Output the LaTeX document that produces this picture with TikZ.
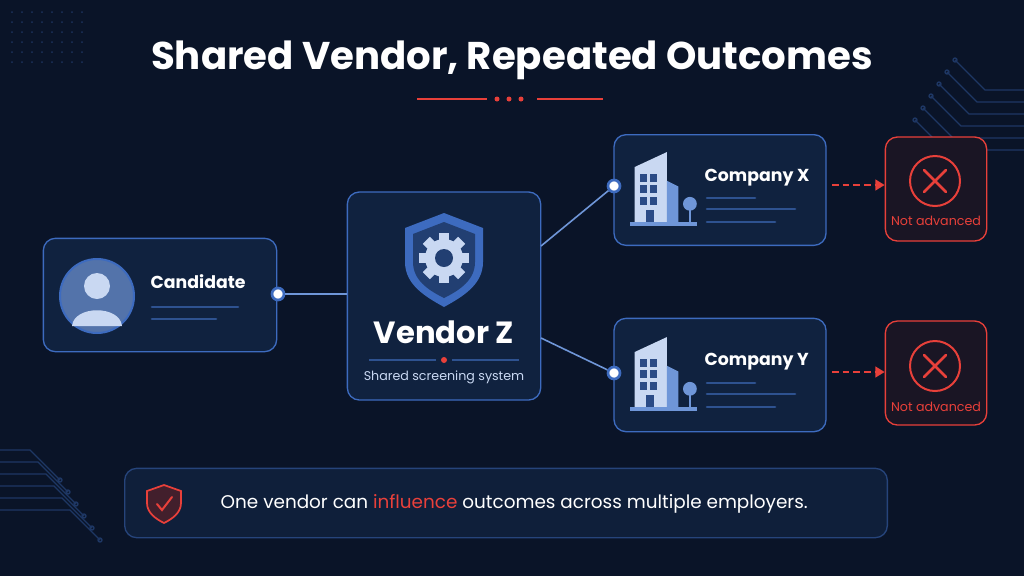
\documentclass[tikz,border=0pt]{standalone}
\usepackage{fontspec}
\setmainfont{Poppins}
\usetikzlibrary{arrows.meta,positioning}
\definecolor{bg}{HTML}{0A1428}
\definecolor{boxfill}{HTML}{10223F}
\definecolor{boxedge}{HTML}{3D6BBF}
\definecolor{iconblue}{HTML}{6F96D8}
\definecolor{iconlight}{HTML}{C9D8F2}
\definecolor{alertred}{HTML}{E8403A}
\definecolor{redfill}{HTML}{1A1524}
\definecolor{greyline}{HTML}{2E5290}
\tikzset{
  box/.style = {draw = boxedge, fill = boxfill, rounded corners = 9pt, line width = 1pt, inner sep = 0pt},
  redbox/.style = {draw = alertred, fill = redfill, rounded corners = 9pt, line width = 1pt, inner sep = 0pt},
  link/.style = {draw = iconblue, line width = 1.2pt},
  port/.style = {circle, draw = boxedge, fill = white, line width = 2pt, inner sep = 0pt, minimum size = 9pt},
  stub/.style = {draw = greyline, line width = 2pt, line cap = round},
  label/.style = {text = white, font = \bfseries\fontsize{13}{15}\selectfont, anchor = west},
}
\newcommand{\building}[1]{%
  \begin{scope}[shift = {#1}, scale = 1.15]
    \fill [iconlight] (-22, 28) -- (-22, -20) -- (6, -33) -- (6, 28) -- cycle;
    \fill [iconblue] (6, 28) -- (6, -8) -- (16, -3) -- (16, 28) -- cycle;
    \foreach \cx in {-17, -9} \foreach \cy in {-14, -4, 6} {
      \fill [boxedge!70!black] (\cx, \cy) rectangle ++(6, 7);
    }
    \fill [boxedge!70!black] (-12, 17) rectangle ++(7, 11);
    \fill [iconblue] (26, 12) circle (6);
    \draw [iconblue, line width = 1.5pt] (26, 16) -- (26, 28);
    \fill [iconblue] (-26, 28) rectangle (32, 31);
  \end{scope}}
\newcommand{\crossmark}[1]{%
  \draw [alertred, line width = 1.5pt] #1 circle (25);
  \draw [alertred, line width = 2pt, line cap = round] #1 ++(-11, -11) -- ++(22, 22) #1 ++(-11, 11) -- ++(22, -22);}
\begin{document}
\begin{tikzpicture}[x = 0.75pt, y = -0.75pt]
  \fill [bg] (0, 0) rectangle (1024, 576);
  \useasboundingbox (0, 0) rectangle (1024, 576);

  % corner traces
  \foreach \i in {0,...,5} {
    \draw [boxedge!40!bg, line width = 1pt] (1024, 90 + 12*\i) -- (985 - 8*\i, 90 + 12*\i) -- (955 - 8*\i, 60 + 12*\i) circle (2);
    \draw [boxedge!40!bg, line width = 1pt] (0, 450 + 12*\i) -- (30 + 8*\i, 450 + 12*\i) -- (60 + 8*\i, 480 + 12*\i) circle (2);
  }
  \foreach \i in {0,...,7} \foreach \j in {0,...,5} {
    \fill [boxedge!35!bg] (12 + 10*\i, 12 + 10*\j) circle (1);
  }

  % title
  \node [text = white, font = \bfseries\fontsize{29}{34}\selectfont] (title) at (512, 60) {Shared Vendor, Repeated Outcomes};
  \draw [alertred, line width = 1pt] (417, 99) -- (487, 99);
  \draw [alertred, line width = 1pt] (537, 99) -- (603, 99);
  \foreach \dx in {497, 509, 521} {
    \fill [alertred] (\dx, 99) circle (2.5);
  }

  % candidate
  \node [box, minimum width = 175pt, minimum height = 85pt] (cand) at (160, 295) {};
  \fill [iconblue!70!boxfill] (97, 296) circle (37);
  \draw [boxedge, line width = 1.5pt] (97, 296) circle (37);
  \fill [iconlight] (97, 286) circle (13);
  \fill [iconlight] (72, 326) .. controls (74, 305) and (120, 305) .. (122, 326) -- cycle;
  \node [label] (candtext) at (146, 282) {Candidate};
  \draw [stub] (152, 307) -- (238, 307);
  \draw [stub] (152, 319) -- (216, 319);
  \node [port] (candport) at (278, 294) {};

  % vendor
  \node [box, minimum width = 145pt, minimum height = 156pt] (vendor) at (444, 296) {};
  \fill [boxedge] (444, 213) -- (483, 228) -- (483, 262) .. controls (483, 285) and (462, 297) .. (444, 307)
    .. controls (426, 297) and (405, 285) .. (405, 262) -- (405, 228) -- cycle;
  \fill [boxfill!60!boxedge] (444, 222) -- (475, 234) -- (475, 262) .. controls (475, 280) and (460, 290) .. (444, 298)
    .. controls (428, 290) and (413, 280) .. (413, 262) -- (413, 234) -- cycle;
  \foreach \a in {0, 45, ..., 315} {
    \fill [iconlight, rotate around = {\a:(444, 258)}] (439, 233) rectangle (449, 243);
  }
  \fill [iconlight] (444, 258) circle (19);
  \fill [boxfill!60!boxedge] (444, 258) circle (9);
  \node [text = white, font = \bfseries\fontsize{23}{27}\selectfont] (vendortext) at (444, 332) {Vendor Z};
  \draw [greyline, line width = 1pt] (369, 360) -- (436, 360);
  \draw [greyline, line width = 1pt] (452, 360) -- (519, 360);
  \fill [alertred] (444, 360) circle (3);
  \node [text = iconlight, font = \fontsize{9.5}{11}\selectfont] (vendorsub) at (444, 377) {Shared screening system};
  \coordinate (vendorup) at (541, 246);
  \coordinate (vendordown) at (541, 338);

  % companies
  \node [box, minimum width = 159pt, minimum height = 83pt] (compx) at (720, 190) {};
  \node [box, minimum width = 159pt, minimum height = 85pt] (compy) at (720, 375) {};
  \building{(660, 190)}
  \building{(660, 375)}
  \node [label] (compxtext) at (700, 178) {Company X};
  \node [label] (compytext) at (700, 362) {Company Y};
  \foreach \yy/\wd in {198/755, 209/795, 222/775} {
    \draw [stub] (707, \yy) -- (\wd, \yy);
    \draw [stub] (707, \yy + 185) -- (\wd, \yy + 185);
  }
  \node [port] (xport) at (614, 186) {};
  \node [port] (yport) at (614, 373) {};

  % outcomes
  \node [redbox, minimum width = 76pt, minimum height = 78pt] (outx) at (936, 189) {};
  \node [redbox, minimum width = 76pt, minimum height = 78pt] (outy) at (936, 373) {};
  \crossmark{(935, 181)}
  \crossmark{(935, 366)}
  \node [text = alertred, font = \fontsize{9.5}{11}\selectfont] (outxtext) at (936, 221) {Not advanced};
  \node [text = alertred, font = \fontsize{9.5}{11}\selectfont] (outytext) at (936, 407) {Not advanced};

  % connectors
  \draw [link] (candport) -- (vendor.west |- candport);
  \draw [link] (vendorup) -- (xport);
  \draw [link] (vendordown) -- (yport);
  \draw [alertred, line width = 1.8pt, dash pattern = on 5pt off 3pt, -{Triangle[length = 7pt, width = 8pt]}] (832, 185) -- (outx.west |- 0, 185);
  \draw [alertred, line width = 1.8pt, dash pattern = on 5pt off 3pt, -{Triangle[length = 7pt, width = 8pt]}] (832, 372) -- (outy.west |- 0, 372);

  % banner
  \node [box, draw = boxedge!55!bg, fill = boxfill!80!bg, minimum width = 572pt, minimum height = 52pt] (banner) at (506, 503) {};
  \fill [alertred!25!bg] (164, 485) -- (181, 491) -- (181, 503) .. controls (181, 513) and (172, 519) .. (164, 523)
    .. controls (156, 519) and (147, 513) .. (147, 503) -- (147, 491) -- cycle;
  \draw [alertred, line width = 1.3pt] (164, 485) -- (181, 491) -- (181, 503) .. controls (181, 513) and (172, 519) .. (164, 523)
    .. controls (156, 519) and (147, 513) .. (147, 503) -- (147, 491) -- cycle;
  \draw [alertred, line width = 1.5pt, line cap = round] (157, 504) -- (162, 510) -- (172, 497);
  \node [text = white, font = \fontsize{13.8}{16}\selectfont, anchor = west] (bannertext) at (216, 504)
    {One vendor can \textcolor{alertred}{influence} outcomes across multiple employers.};
\end{tikzpicture}
\end{document}
